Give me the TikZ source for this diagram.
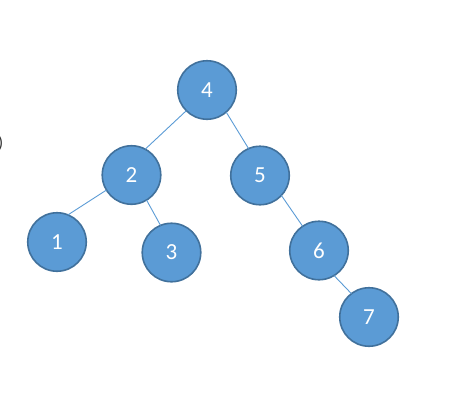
\documentclass[tikz,border=0pt]{standalone}
\usepackage{fontspec}
\setmainfont{Carlito}
\usetikzlibrary{positioning}
\definecolor{nodeblue}{HTML}{5B9BD5}
\definecolor{nodeedge}{HTML}{41719C}
\begin{document}
\begin{tikzpicture}[
  x=1pt, y=-1pt,
  key/.style={circle, draw=nodeedge, fill=nodeblue, line width=1.6pt,
              minimum size=58.5pt, inner sep=0pt, outer sep=0pt,
              text=white, font=\fontsize{23}{23}\selectfont},
  link/.style={draw=nodeblue, line width=0.9pt},
]
\useasboundingbox (0,0) rectangle (459,407);
\node[key] (n4) at (207,90) {4};
\node[key] (n2) at (131.5,175) {2};
\node[key] (n5) at (260,175.5) {5};
\node[key] (n1) at (57,242) {1};
\node[key] (n3) at (171.5,252.5) {3};
\node[key] (n6) at (319,250.5) {6};
\node[key] (n7) at (369,317) {7};
\node[anchor=east, inner sep=0pt, text=black!80, font=\fontsize{17}{17}\selectfont] (cut) at (3.5,143) {)};
\draw[link] (n4.225) -- (n2.62);
\draw[link] (n4.311) -- (n5.113);
\draw[link] (n2.211) -- (n1.68);
\draw[link] (n2.301) -- (n3.112);
\draw[link] (n5.317) -- (n6.124);
\draw[link] (n6.301) -- (n7.127);
\end{tikzpicture}
\end{document}
